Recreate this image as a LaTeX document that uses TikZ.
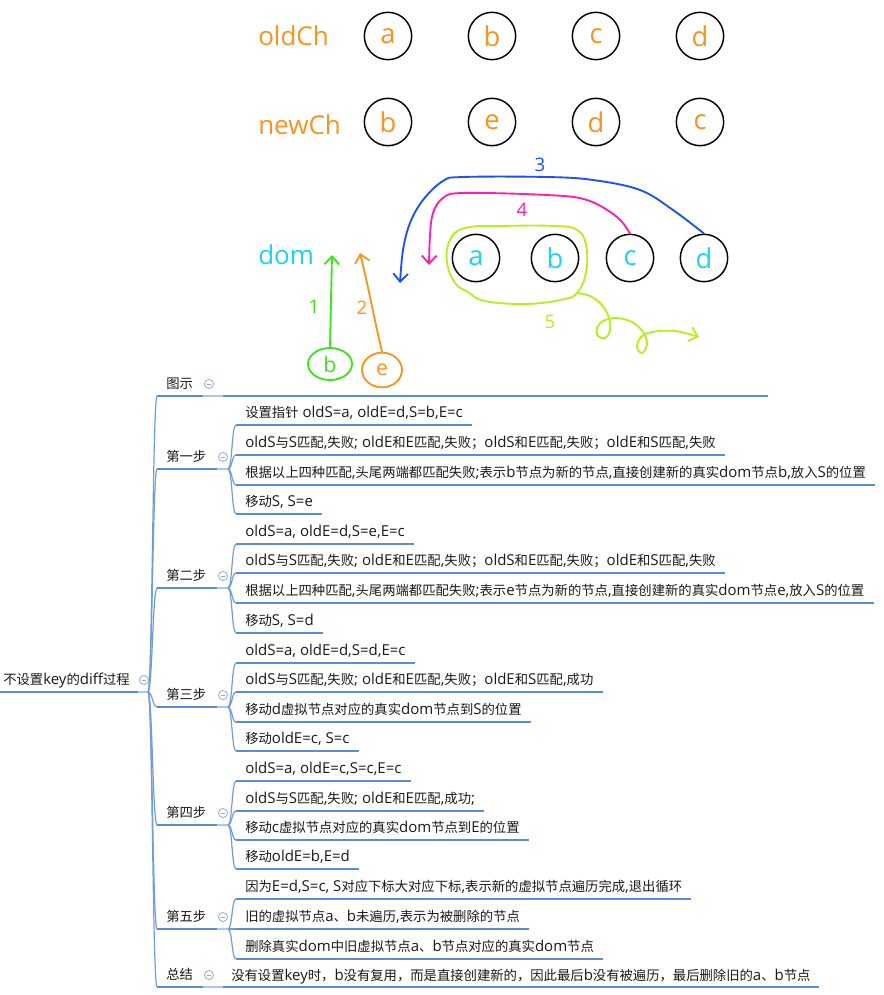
\documentclass[tikz,border=0pt]{standalone}
\usepackage{fontspec}
\setmainfont{Open Sans}
\newfontfamily\cjk{Noto Sans CJK SC}[Scale=0.889]
% CJK characters switch to the CJK family
\XeTeXinterchartokenstate=1
\newXeTeXintercharclass\cjkclass
\newcount\cjkc
\cjkc="4E00
\loop\XeTeXcharclass\cjkc=\cjkclass\ifnum\cjkc<"9FFF\advance\cjkc by 1\repeat
\XeTeXcharclass"FF0C=\cjkclass \XeTeXcharclass"FF1B=\cjkclass \XeTeXcharclass"3001=\cjkclass
\XeTeXinterchartoks 0 \cjkclass = {\begingroup\cjk}
\XeTeXinterchartoks 4095 \cjkclass = {\begingroup\cjk}
\XeTeXinterchartoks \cjkclass 0 = {\endgroup}
\XeTeXinterchartoks \cjkclass 4095 = {\endgroup}
\usetikzlibrary{arrows.meta,shapes.geometric,positioning}
\definecolor{txt}{RGB}{25,25,25}
\definecolor{ulc}{RGB}{90,140,215}
\definecolor{lightc}{RGB}{172,198,236}
\definecolor{linkc}{RGB}{112,156,222}
\definecolor{iconc}{RGB}{140,170,215}
\definecolor{orng}{RGB}{247,148,29}
\definecolor{cyn}{RGB}{30,210,240}
\definecolor{hgreen}{RGB}{60,228,30}
\definecolor{horange}{RGB}{250,150,30}
\definecolor{hblue}{RGB}{30,80,245}
\definecolor{hpink}{RGB}{255,30,180}
\definecolor{hlime}{RGB}{180,240,30}
\tikzset{
  topic/.style={anchor=base west, inner xsep=6.75pt, inner ysep=0pt, text=txt, font=\fontsize{11.25}{13}\selectfont},
  uline/.style={draw=ulc, line width=2.2pt},
  ulight/.style={draw=lightc, line width=2.2pt},
  link/.style={draw=linkc, line width=0.9pt, out=0, in=180, distance=3.2pt},
  fold/.style={circle, draw=iconc, line width=0.6pt, minimum size=6.8pt, inner sep=0pt,
    path picture={\draw[iconc, line width=0.6pt] ([xshift=1.6pt]path picture bounding box.west) -- ([xshift=-1.6pt]path picture bounding box.east);}},
  lbl/.style={anchor=west, inner sep=0pt, font=\fontsize{19.5}{24}\selectfont},
  ring/.style={circle, draw=black, line width=1.1pt, minimum size=35.5pt, inner sep=0pt, font=\fontsize{20.5}{24}\selectfont},
  hand/.style={line width=1.4pt, line cap=round, line join=round, -{Straight Barb[length=6pt,width=11pt]}},
  blob/.style={ellipse, line width=1.4pt, inner sep=0pt, font=\fontsize{16}{18}\selectfont},
  num/.style={inner sep=0pt, font=\fontsize{14}{16}\selectfont}
}
\begin{document}
\begin{tikzpicture}[x=0.75pt, y=-0.75pt, line join=round]
  \useasboundingbox (0,0) rectangle (884,995);
  % oldCh / newCh / dom
  \node[lbl, text=orng] (oldCh) at (258,36) {oldCh};
  \node[lbl, text=orng] (newCh) at (258,125) {newCh};
  \node[lbl, text=cyn] (dom) at (258,255) {dom};
  \foreach \l [count=\i] in {a,b,c,d}
    \node[ring, text=orng] (old-\l) at ({388+104*(\i-1)},36) {\l};
  \foreach \l [count=\i] in {b,e,d,c}
    \node[ring, text=orng] (new-\l) at ({388+104*(\i-1)},122) {\l};
  \foreach \l/\x in {a/476,b/555,c/630,d/704}
    \node[ring, text=cyn] (dom-\l) at (\x,258) {\l};
  % steps drawn by hand
  \node[blob, draw=hgreen, text=hgreen, minimum width=33pt, minimum height=24pt] (hand-b) at (330,364) {b};
  \node[blob, draw=horange, text=horange, minimum width=30pt, minimum height=26pt] (hand-e) at (382,370) {e};
  \coordinate (tip1) at (332,255);
  \coordinate (tip2) at (360,253);
  \coordinate (tip3) at (400,283);
  \coordinate (tip4) at (429,265);
  \coordinate (loop5) at (577,293);
  \coordinate (tip5) at (699,337);
  \draw[hand, hgreen] (hand-b.north) -- (tip1);
  \draw[hand, horange] (hand-e.north) .. controls (374,318) and (368,285) .. (tip2);
  \draw[hand, hblue] plot[smooth, tension=0.6] coordinates {(dom-d.north) (673,210) (640,190) (593,180) (547,177) (463,177) (443,181) (423,200) (410,223) (403,250) (tip3)};
  \draw[hand, hpink] plot[smooth, tension=0.6] coordinates {(dom-c.north) (617,217) (587,200) (547,195) (463,193) (443,198) (433,213) (430,235) (tip4)};
  \draw[hlime, line width=1.4pt, line cap=round] plot[smooth cycle, tension=0.7] coordinates {(468,292) (485,301) (525,304) (560,300) (loop5) (586,272) (586,245) (577,230) (555,226) (500,226) (465,228) (450,240) (447,262) (455,283)};
  \draw[hand, hlime] plot[smooth, tension=0.6] coordinates {(loop5) (590,296) (602,305) (609,318) (610,331) (605,338) (598,336) (597,328) (603,321) (616,318) (632,322) (643,332) (647,344) (642,353) (637,347) (641,337) (652,332) (675,331) (tip5)};
  \node[num, text=hgreen] (n1) at (314,307) {1};
  \node[num, text=horange] (n2) at (362,308) {2};
  \node[num, text=hblue] (n3) at (540,165) {3};
  \node[num, text=hpink] (n4) at (522,210) {4};
  \node[num, text=hlime] (n5) at (550,322) {5};
  % mind map
  \node[topic, inner xsep=2.25pt] (root) at (0,684) {不设置key的diff过程};
  \draw[uline] (0,692) -- (138,692);
  \draw[ulight] (138,692) -- (148,692);
  \node[fold] (root-fold) at (144,680) {};
  \coordinate (root-out) at (148,692);
  \foreach \n/\tx/\y/\w/\e in {tushi/图示/396/203/223, step1/第一步/469/217/228, step2/第二步/588/217/228,
      step3/第三步/707/217/228, step4/第四步/825/217/228, step5/第五步/929/217/228, zongjie/总结/987/203/223}{
    \node[topic] (\n) at (157,\y-8) {\tx};
    \draw[uline] ([yshift=-6pt]\n.base west) -- (\w,\y);
    \draw[ulight] (\w,\y) -- (\e,\y);
    \node[fold] (\n-fold) at (\w+6,\y-12) {};
    \coordinate (\n-out) at (\e,\y);
    \draw[link] (root-out) to ([yshift=-6pt]\n.base west);
  }
  \draw[uline] (tushi-out) -- (768,396);
  \def\leaves#1#2{%
    \foreach \y/\tx [count=\i] in {#2}{
      \node[topic] (#1-\i) at (236,\y-8) {\tx};
      \draw[uline] ([yshift=-6pt]#1-\i.base west) -- ([yshift=-6pt]#1-\i.base east);
      \draw[link] (#1-out) to ([yshift=-6pt]#1-\i.base west);
    }}
  \leaves{step1}{425/{设置指针 oldS=a, oldE=d,S=b,E=c},
    455/{oldS与S匹配,失败; oldE和E匹配,失败；oldS和E匹配,失败；oldE和S匹配,失败},
    485/{根据以上四种匹配,头尾两端都匹配失败;表示b节点为新的节点,直接创建新的真实dom节点b,放入S的位置},
    514/{移动S, S=e}}
  \leaves{step2}{544/{oldS=a, oldE=d,S=e,E=c},
    573/{oldS与S匹配,失败; oldE和E匹配,失败；oldS和E匹配,失败；oldE和S匹配,失败},
    603/{根据以上四种匹配,头尾两端都匹配失败;表示e节点为新的节点,直接创建新的真实dom节点e,放入S的位置},
    633/{移动S, S=d}}
  \leaves{step3}{663/{oldS=a, oldE=d,S=d,E=c},
    692/{oldS与S匹配,失败; oldE和E匹配,失败；oldE和S匹配,成功},
    722/{移动d虚拟节点对应的真实dom节点到S的位置},
    751/{移动oldE=c, S=c}}
  \leaves{step4}{781/{oldS=a, oldE=c,S=c,E=c},
    811/{oldS与S匹配,失败; oldE和E匹配,成功;},
    840/{移动c虚拟节点对应的真实dom节点到E的位置},
    869/{移动oldE=b,E=d}}
  \leaves{step5}{899/{因为E=d,S=c, S对应下标大对应下标,表示新的虚拟节点遍历完成,退出循环},
    929/{旧的虚拟节点a、b未遍历,表示为被删除的节点},
    959/{删除真实dom中旧虚拟节点a、b节点对应的真实dom节点}}
  \node[topic, inner xsep=6pt] (zongjie-1) at (223,980) {没有设置key时，b没有复用，而是直接创建新的，因此最后b没有被遍历，最后删除旧的a、b节点};
  \draw[uline] ([yshift=-5.25pt]zongjie-1.base west) -- ([yshift=-5.25pt]zongjie-1.base east);
\end{tikzpicture}
\end{document}
